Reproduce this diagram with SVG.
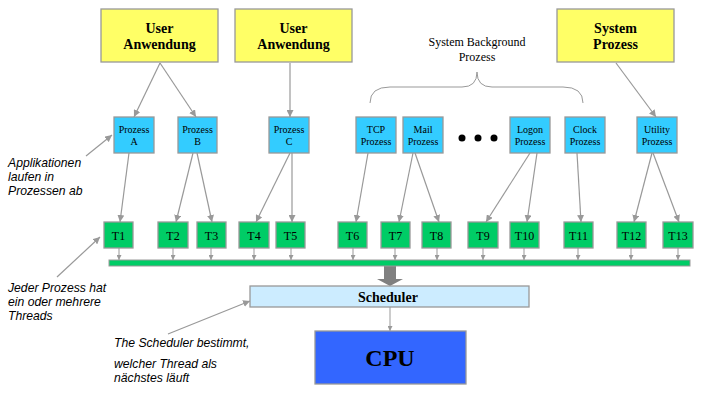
<svg xmlns="http://www.w3.org/2000/svg" width="712" height="404" viewBox="0 0 712 404">
<style>
.user{fill:#FFFF66;stroke:#999;stroke-width:1.3}
.proc{fill:#33CCFF;stroke:#999;stroke-width:1.3}
.thr{fill:#00CC66;stroke:#999;stroke-width:1.3}
.ut{font-family:"Liberation Serif",serif;font-weight:bold;font-size:14px;text-anchor:middle;fill:#000}
.pt{font-family:"Liberation Serif",serif;font-size:10px;text-anchor:middle;fill:#000}
.tt{font-family:"Liberation Serif",serif;font-size:12px;text-anchor:middle;fill:#000}
.st{font-family:"Liberation Serif",serif;font-size:12px;text-anchor:middle;fill:#000}
.note{font-family:"Liberation Sans",sans-serif;font-style:italic;font-size:12.2px;fill:#000}
.c{stroke:#999;stroke-width:1.2;fill:none;marker-end:url(#ah)}
.cs{stroke:#999;stroke-width:1;fill:none;marker-end:url(#ahs)}
</style>
<defs>
<marker id="ah" viewBox="0 0 10 10" refX="10" refY="5" markerWidth="7" markerHeight="7" markerUnits="userSpaceOnUse" orient="auto"><path d="M0,0 L10,5 L0,10 z" fill="#999"/></marker>
<marker id="ahs" viewBox="0 0 10 10" refX="10" refY="5" markerWidth="5" markerHeight="5" markerUnits="userSpaceOnUse" orient="auto"><path d="M0,0 L10,5 L0,10 z" fill="#999"/></marker>
</defs>
<rect width="712" height="404" fill="#fff"/>

<g id="connectors">
<path class="c" d="M160,63 L134,117"/>
<path class="c" d="M160,63 L196,117"/>
<path class="c" d="M290,63 L290,117"/>
<path class="c" d="M616,63 L656,117"/>
<path class="c" d="M129,153 L120,222"/>
<path class="c" d="M193,153 L176,222"/>
<path class="c" d="M197,153 L212,222"/>
<path class="c" d="M290,153 L256,222"/>
<path class="c" d="M292,153 L292,222"/>
<path class="c" d="M368,153 L356,222"/>
<path class="c" d="M413,153 L399,222"/>
<path class="c" d="M415,153 L439,222"/>
<path class="c" d="M530,153 L486,222"/>
<path class="c" d="M537,153 L527,222"/>
<path class="c" d="M577,153 L581,222"/>
<path class="c" d="M652,153 L634,222"/>
<path class="c" d="M653,153 L679,222"/>
<path class="cs" d="M119,248 V260"/>
<path class="cs" d="M173,248 V260"/>
<path class="cs" d="M211,248 V260"/>
<path class="cs" d="M254,248 V260"/>
<path class="cs" d="M291,248 V260"/>
<path class="cs" d="M353,248 V260"/>
<path class="cs" d="M395,248 V260"/>
<path class="cs" d="M437,248 V260"/>
<path class="cs" d="M483,248 V260"/>
<path class="cs" d="M524,248 V260"/>
<path class="cs" d="M578,248 V260"/>
<path class="cs" d="M631,248 V260"/>
<path class="cs" d="M678,248 V260"/>
<path class="cs" d="M390,307 V331"/>
<path class="c" d="M86,156 L112,135"/>
<path class="c" d="M57,277 L100,237"/>
<path class="c" d="M168,334 L250,301"/>
<path d="M384,266 H396 V279 H403 L390,286 L377,279 H384 Z" fill="#808080"/>
</g>

<g id="user1"><rect class="user" x="101" y="9" width="117" height="53"/><text class="ut" x="159.5" y="33">User</text><text class="ut" x="159.5" y="49">Anwendung</text></g>
<g id="user2"><rect class="user" x="235" y="9" width="117" height="53"/><text class="ut" x="293.5" y="33">User</text><text class="ut" x="293.5" y="49">Anwendung</text></g>
<g id="sysproc"><rect class="user" x="557" y="9" width="117" height="53"/><text class="ut" x="615.5" y="33">System</text><text class="ut" x="615.5" y="49">Prozess</text></g>

<g id="sysbg">
<text class="st" x="477" y="46">System Background</text>
<text class="st" x="477" y="61">Prozess</text>
<path d="M370,103 Q370,87 390,87 L462,87 Q477,87 477,72 Q477,87 492,87 L563,87 Q583,87 583,103" fill="none" stroke="#999" stroke-width="1"/>
</g>

<g id="pA"><rect class="proc" x="114" y="117" width="40" height="36"/><text class="pt" x="134" y="133">Prozess</text><text class="pt" x="134" y="145">A</text></g>
<g id="pB"><rect class="proc" x="178" y="117" width="39" height="36"/><text class="pt" x="197.5" y="133">Prozess</text><text class="pt" x="197.5" y="145">B</text></g>
<g id="pC"><rect class="proc" x="269" y="117" width="40" height="36"/><text class="pt" x="289" y="133">Prozess</text><text class="pt" x="289" y="145">C</text></g>
<g id="pTCP"><rect class="proc" x="356" y="117" width="40" height="36"/><text class="pt" x="376" y="133">TCP</text><text class="pt" x="376" y="145">Prozess</text></g>
<g id="pMail"><rect class="proc" x="403" y="117" width="40" height="36"/><text class="pt" x="423" y="133">Mail</text><text class="pt" x="423" y="145">Prozess</text></g>
<g id="dots"><circle cx="462" cy="138" r="3.5" fill="#000"/><circle cx="478" cy="138" r="3.5" fill="#000"/><circle cx="494" cy="138" r="3.5" fill="#000"/></g>
<g id="pLogon"><rect class="proc" x="510" y="117" width="40" height="36"/><text class="pt" x="530" y="133">Logon</text><text class="pt" x="530" y="145">Prozess</text></g>
<g id="pClock"><rect class="proc" x="565" y="117" width="40" height="36"/><text class="pt" x="585" y="133">Clock</text><text class="pt" x="585" y="145">Prozess</text></g>
<g id="pUtil"><rect class="proc" x="637" y="117" width="40" height="36"/><text class="pt" x="657" y="133">Utility</text><text class="pt" x="657" y="145">Prozess</text></g>

<g id="T1"><rect class="thr" x="104" y="222" width="29" height="26"/><text class="tt" x="118.5" y="240">T1</text></g>
<g id="T2"><rect class="thr" x="158" y="222" width="30" height="26"/><text class="tt" x="173" y="240">T2</text></g>
<g id="T3"><rect class="thr" x="197" y="222" width="29" height="26"/><text class="tt" x="211.5" y="240">T3</text></g>
<g id="T4"><rect class="thr" x="239" y="222" width="30" height="26"/><text class="tt" x="254" y="240">T4</text></g>
<g id="T5"><rect class="thr" x="276" y="222" width="29" height="26"/><text class="tt" x="290.5" y="240">T5</text></g>
<g id="T6"><rect class="thr" x="338" y="222" width="29" height="26"/><text class="tt" x="352.5" y="240">T6</text></g>
<g id="T7"><rect class="thr" x="381" y="222" width="29" height="26"/><text class="tt" x="395.5" y="240">T7</text></g>
<g id="T8"><rect class="thr" x="422" y="222" width="29" height="26"/><text class="tt" x="436.5" y="240">T8</text></g>
<g id="T9"><rect class="thr" x="468" y="222" width="30" height="26"/><text class="tt" x="483" y="240">T9</text></g>
<g id="T10"><rect class="thr" x="510" y="222" width="29" height="26"/><text class="tt" x="524.5" y="240">T10</text></g>
<g id="T11"><rect class="thr" x="564" y="222" width="29" height="26"/><text class="tt" x="578.5" y="240">T11</text></g>
<g id="T12"><rect class="thr" x="617" y="222" width="29" height="26"/><text class="tt" x="631.5" y="240">T12</text></g>
<g id="T13"><rect class="thr" x="663" y="222" width="30" height="26"/><text class="tt" x="678" y="240">T13</text></g>

<g id="bar"><rect x="109" y="260" width="581" height="6" fill="#00CC66" stroke="#999" stroke-width="1"/></g>

<g id="scheduler"><rect x="250" y="286" width="279" height="21" fill="#CCECFF" stroke="#999" stroke-width="1.3"/><text x="388" y="302" font-family="Liberation Serif, serif" font-weight="bold" font-size="14px" text-anchor="middle">Scheduler</text></g>
<g id="cpu"><rect x="315" y="331" width="151" height="53" fill="#3366FF" stroke="#999" stroke-width="1.3"/><text x="390" y="366" font-family="Liberation Serif, serif" font-weight="bold" font-size="24px" text-anchor="middle">CPU</text></g>

<g id="note1"><text class="note" x="8" y="167">Applikationen</text><text class="note" x="8" y="181">laufen in</text><text class="note" x="8" y="195">Prozessen ab</text></g>
<g id="note2"><text class="note" x="8" y="292">Jeder Prozess hat</text><text class="note" x="8" y="306">ein oder mehrere</text><text class="note" x="8" y="320">Threads</text></g>
<g id="note3"><text class="note" x="114" y="347">The Scheduler bestimmt,</text><text class="note" x="114" y="368">welcher Thread als</text><text class="note" x="114" y="382">nächstes läuft</text></g>
</svg>
